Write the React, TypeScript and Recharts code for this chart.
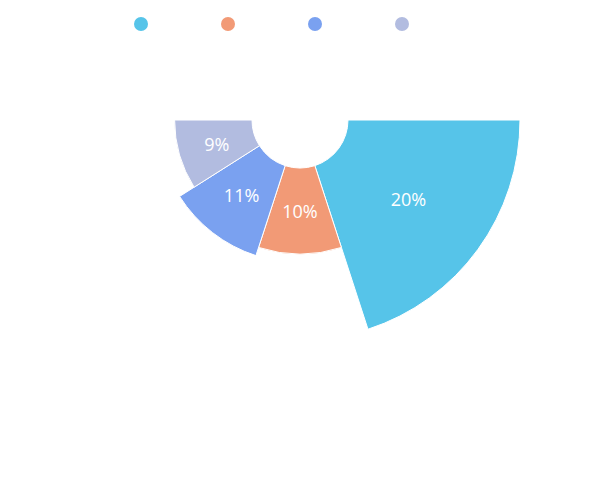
import React from 'react';
import { PieChart, Pie, Cell, Legend } from 'recharts';

const categories = ['A', 'B', 'C', 'D'];
const values = [20, 10, 11, 9];
const colors = ['#56c4e9', '#f29a76', '#7aa1f0', '#b2bce0'];
const hiddenValue = values.reduce((a, b) => a + b, 0);

const data = [
  ...categories.map((name, i) => ({ name, value: values[i], hidden: false })),
  { name: 'hidden', value: hiddenValue, hidden: true },
];

const INNER = 48;
const OUTER = 220;
const maxValue = Math.max(...values);
const radiusFor = (d: any) => {
  const v = d && d.payload ? d.payload.value : d.value;
  const h = d && d.payload ? d.payload.hidden : d.hidden;
  if (h) return INNER + 1;
  return INNER + (v / maxValue) * (OUTER - INNER);
};

const RAD = Math.PI / 180;

const renderLabel = (props: any) => {
  const { cx, cy, midAngle, innerRadius, outerRadius, percent, payload } = props;
  if (payload && payload.hidden) return null;
  const r = (innerRadius + outerRadius) / 2;
  const x = cx + r * Math.cos(-midAngle * RAD);
  const y = cy + r * Math.sin(-midAngle * RAD);
  return (
    <text
      x={x}
      y={y}
      fill="#ffffff"
      textAnchor="middle"
      dominantBaseline="central"
      fontSize={18}
      fontFamily="'Open Sans', sans-serif"
    >
      {`${Math.round(percent * 100)}%`}
    </text>
  );
};

const LegendContent = () => (
  <div style={{ display: 'flex', justifyContent: 'center', gap: 10 }}>
    {categories.map((c, i) => (
      <div key={c} style={{ width: 77, height: 14, display: 'flex', alignItems: 'center' }}>
        <div style={{ width: 14, height: 14, borderRadius: 7, background: colors[i], marginLeft: 3 }} />
      </div>
    ))}
  </div>
);

export default function App() {
  return (
    <div style={{ position: 'absolute', left: 0, top: 0, width: 600, height: 480, background: '#fff' }}>
      <PieChart width={600} height={480} margin={{ top: 0, right: 0, bottom: 0, left: 0 }}>
        <Legend
          verticalAlign="top"
          align="center"
          content={<LegendContent />}
          wrapperStyle={{ top: 17, left: 0, width: 600 }}
        />
        <Pie
          data={data}
          dataKey="value"
          nameKey="name"
          cx={300}
          cy={106}
          startAngle={0}
          endAngle={-360}
          innerRadius={INNER}
          outerRadius={radiusFor as any}
          stroke="#ffffff"
          strokeWidth={1}
          label={renderLabel}
          labelLine={false}
          isAnimationActive={false}
        >
          {data.map((d, i) => (
            <Cell key={d.name} fill={d.hidden ? 'none' : colors[i]} stroke={d.hidden ? 'none' : '#ffffff'} />
          ))}
        </Pie>
      </PieChart>
    </div>
  );
}
